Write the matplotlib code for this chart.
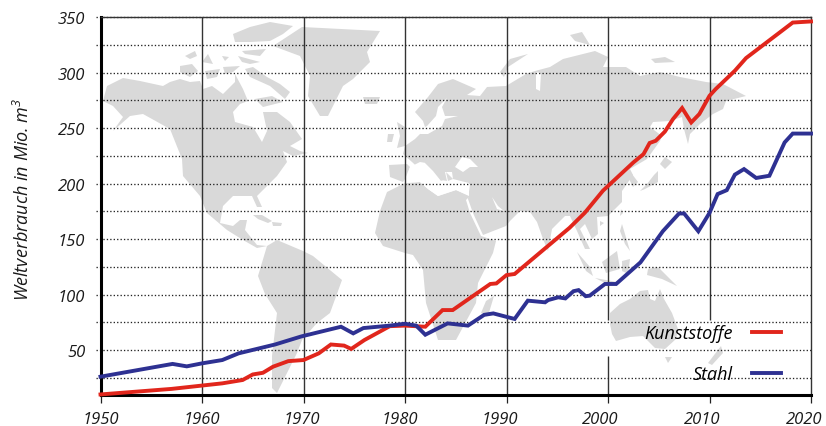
import matplotlib
matplotlib.use("Agg")
import matplotlib.pyplot as plt
import matplotlib.transforms as mtransforms
from matplotlib.patches import Polygon

plt.rcParams['font.family'] = ['Open Sans', 'DejaVu Sans']
plt.rcParams['font.style'] = 'italic'
plt.rcParams['mathtext.fontset'] = 'custom'
plt.rcParams['mathtext.it'] = 'Open Sans:italic'
plt.rcParams['mathtext.rm'] = 'Open Sans:italic'

kunst_years = [1950, 1957, 1960, 1962, 1964, 1965, 1966, 1967, 1968.5, 1970, 1971.5, 1972.7, 1974, 1974.7,
               1976, 1978.5, 1980, 1982, 1983.7, 1984.7, 1988.4, 1989, 1990, 1990.8, 1996.2, 1997.7, 1999.5,
               2002.5, 2003.5, 2004.1, 2004.7, 2005.6, 2006.4, 2007.3, 2008.2, 2009, 2010, 2010.6, 2012.5,
               2013.6, 2018.2, 2020]
kunst_vals = [10, 15, 18, 20, 23, 28, 29.5, 35, 40, 41, 47, 55, 54, 51,
              59, 71.5, 72, 71, 86, 86, 109.5, 110, 117.5, 118.5, 160, 173.5, 193.5,
              219, 226.5, 236.5, 238.5, 246.7, 258, 268, 255, 262.6, 279, 285, 301.6,
              313, 345, 346]

stahl_years = [1950, 1957.1, 1958.5, 1960, 1962, 1963.6, 1967.2, 1969.8, 1973.7, 1974.9, 1975.9, 1978.5, 1980,
               1981.1, 1982, 1984.2, 1986.2, 1987.8, 1988.7, 1990.8, 1992.1, 1993.8, 1994.1, 1995.1, 1995.8,
               1996.6, 1997.1, 1997.8, 1998.2, 1999.7, 2000.8, 2003.2, 2005.4, 2007, 2007.5, 2008.9, 2010,
               2010.8, 2011.7, 2012.5, 2013.4, 2014.6, 2015.9, 2017.4, 2018.2, 2020]
stahl_vals = [26, 37.5, 35.3, 38, 41, 47, 55, 62.3, 71, 65, 69.8, 72, 73.7,
              72, 63.8, 74, 72, 81.7, 83, 78, 94.5, 93, 95, 97.5, 96.5,
              103, 104, 98.5, 99, 109.5, 109.5, 129, 157, 173, 173, 157, 173.5,
              190.5, 194, 208, 213, 205, 207, 237, 245, 245]

y_ticks = [50, 100, 150, 200, 250, 300, 350]
grid_vals = [25, 50, 75, 100, 125, 150, 175, 200, 225, 250, 275, 300, 325, 350]
x_ticks = [1950, 1960, 1970, 1980, 1990, 2000, 2010, 2020]
# the year labels drift left of their ticks in the original (pixels)
x_label_shift = [0, 0, -2, -5, -7, -7.5, -7, -7]

# background map, traced in image pixels
land = [
    # north and central america
    [(103,102),(107,87),(123,79),(140,82),(163,87),(170,83),(180,80),(190,83),(200,82),(203,90),(212,87),(223,95),
     (235,83),(235,75),(243,90),(248,102),(240,105),(233,113),(235,123),(253,128),(262,143),(267,132),(263,113),
     (277,113),(290,123),(302,140),(290,147),(300,152),(308,154),(293,157),(283,152),(287,163),(277,177),(257,197),
     (262,208),(257,208),(252,197),(233,197),(223,207),(220,224),(233,227),(240,221),(247,221),(245,231),(257,246),
     (267,247),(257,249),(243,241),(227,231),(207,214),(200,197),(183,177),(182,160),(170,130),(143,115),(130,117),
     (113,132),(123,118),(113,107)],
    # south america
    [(267,247),(277,241),(303,252),(313,257),(342,281),(330,314),(317,324),(302,341),(297,354),(287,374),(277,394),
     (272,389),(272,357),(277,314),(265,295),(258,277)],
    # greenland and iceland
    [(273,47),(302,28),(380,32),(367,53),(370,63),(353,80),(343,87),(328,117),(320,117),(308,97),(310,77),(300,57)],
    [(363,98),(380,98),(377,105),(365,105)],
    # canadian islands
    [(233,35),(250,28),(270,23),(293,27),(283,35),(270,42),(250,43),(235,43)],
    [(245,70),(253,68),(267,78),(280,85),(290,93),(285,100),(270,87),(250,78)],
    [(255,100),(272,97),(283,103),(263,108)],
    [(185,57),(195,52),(197,57),(190,60)],
    [(180,67),(192,65),(198,72),(190,78),(180,73)],
    [(202,63),(208,55),(213,65)],
    [(222,57),(229,58),(225,62)],
    [(238,57),(260,63),(250,65),(242,63)],
    [(242,52),(266,50),(260,57),(245,55)],
    [(215,45),(225,47),(220,48)],
    [(205,72),(220,70),(217,78),(207,80)],
    [(223,68),(240,67),(233,73),(225,75)],
    [(253,216),(262,216),(272,222),(268,224),(258,220)],
    [(272,223),(282,224),(281,227),(273,227)],
    # eurasia
    [(415,113),(428,98),(438,85),(453,80),(476,90),(467,96),(480,97),(487,88),(506,87),(526,75),(535,72),(550,68),
     (563,60),(595,52),(608,58),(603,68),(626,68),(640,77),(660,73),(680,78),(706,83),(723,85),(746,97),(726,102),
     (723,110),(713,115),(700,125),(690,135),(688,145),(684,130),(682,118),(670,122),(653,123),(650,128),(662,137),
     (660,142),(647,160),(630,170),(633,176),(622,192),(622,203),(608,217),(597,218),(598,235),(592,240),(585,225),
     (580,230),(590,250),(585,250),(577,232),(570,217),(565,217),(552,230),(548,252),(543,240),(537,223),(530,213),
     (520,212),(510,222),(506,227),(483,236),(473,214),(468,200),(470,185),(445,185),(430,180),(412,163),(403,155),
     (405,147),(415,140),(420,135),(425,128),(423,122)],
    # iberia
    [(389,166),(407,165),(410,168),(405,180),(403,183),(390,178)],
    # africa
    [(375,234),(383,247),(405,254),(413,256),(423,271),(426,304),(438,341),(456,341),(476,304),(478,284),(493,254),
     (496,242),(481,237),(470,214),(466,201),(470,197),(456,191),(438,197),(428,190),(420,183),(405,184),(387,193),
     (380,212)],
    [(494,297),(488,317),(481,314),(486,302)],
    # british isles
    [(397,123),(405,128),(405,147),(397,149),(400,137)],
    [(388,135),(394,135),(392,143),(387,143)],
    # arctic russia
    [(500,73),(510,60),(528,55),(508,68),(504,78)],
    [(570,36),(582,33),(590,46),(575,42)],
    [(651,60),(665,58),(675,63),(655,64)],
    # east and south east asia
    [(632,175),(638,183),(633,188),(628,178)],
    [(665,158),(672,163),(665,170),(660,165)],
    [(658,172),(658,183),(645,190),(640,192),(647,185),(654,176)],
    [(621,210),(623,214),(620,217)],
    [(600,222),(604,224),(600,227)],
    [(622,225),(625,235),(630,252),(625,245),(620,232)],
    [(577,253),(590,268),(593,277),(586,272)],
    [(595,279),(617,283),(605,284)],
    [(602,263),(617,252),(620,270),(606,274)],
    [(622,262),(630,260),(628,275),(622,272)],
    [(648,270),(658,268),(677,287),(662,280),(647,276)],
    # australia and new zealand
    [(610,314),(620,305),(630,300),(640,292),(648,291),(650,300),(655,302),(660,290),(664,300),(672,314),(678,330),
     (676,340),(665,350),(655,349),(643,337),(630,338),(616,342),(612,335),(610,325)],
    [(665,358),(672,358),(668,364)],
    [(721,347),(723,354),(712,366),(708,364)],
]
sea = [
    # mediterranean north shore is cut out of the eurasia shape
    [(410,168),(420,163),(432,165),(441,181),(447,182),(445,173),(452,173),(453,180),(469,184),(469,197),(456,191),
     (438,197),(428,190),(420,183),(405,184)],
    # black sea, baltic, persian gulf, gulf of ob
    [(455,168),(462,158),(470,160),(478,168),(470,168),(463,173)],
    [(447,99),(438,108),(436,117),(427,127),(421,130),(420,135),(428,135),(442,127),(445,120),(458,117),(445,117),(442,108)],
    [(492,198),(498,207),(504,212),(497,210)],
    [(536,73),(541,74),(540,92),(536,90)],
]
# italy and greece sit on top of the mediterranean
peninsulas = [
    [(427,160),(435,167),(445,180),(441,182),(433,172),(425,164)],
    [(446,173),(453,180),(448,182)],
]

fig = plt.figure(figsize=(8.26, 4.27), dpi=100)
ax = fig.add_axes([100.5/826, 1-396/427, (811-100.5)/826, (396-18)/427])
px = mtransforms.Affine2D().scale(1/826, -1/427).translate(0, 1) + fig.transFigure

for shape in land:
    ax.add_patch(Polygon(shape, closed=True, transform=px, fc='#d9d9d9', ec='none', zorder=0.5))
for shape in sea:
    ax.add_patch(Polygon(shape, closed=True, transform=px, fc='white', ec='none', zorder=0.6))
for shape in peninsulas:
    ax.add_patch(Polygon(shape, closed=True, transform=px, fc='#d9d9d9', ec='none', zorder=0.7))

ax.set_xlim(1950, 2020)
ax.set_ylim(9.5, 350)

# decade lines, cut behind the legend
ax.vlines([1960, 1970, 1980, 1990], 9.5, 350, color='#333333', lw=1, zorder=1)
ax.vlines([2000, 2010], 77, 350, color='#333333', lw=1, zorder=1)
ax.vlines(2000, 9.5, 45, color='#333333', lw=1, zorder=1)

ax.hlines(grid_vals, 1949.55, 2020, colors='#222222', linestyles=(0, (1, 1.6)), lw=0.95, clip_on=False, zorder=1.5)

ax.plot(kunst_years, kunst_vals, color='#e1261c', lw=2.8, label='Kunststoffe', zorder=3, clip_on=False, solid_joinstyle='miter')
ax.plot(stahl_years, stahl_vals, color='#2e3192', lw=2.8, label='Stahl', zorder=3, clip_on=False, solid_joinstyle='miter')

ax.set_xticks(x_ticks)
ax.set_yticks(y_ticks)
ax.tick_params(axis='x', length=5.5, width=0.9, pad=6, labelsize=12, color='#222222', labelcolor='#1a1a1a')
ax.tick_params(axis='y', length=0, pad=11, labelsize=12, labelcolor='#1a1a1a')

for lab, shift in zip(ax.get_xticklabels(), x_label_shift):
    lab.set_transform(lab.get_transform() + mtransforms.ScaledTranslation(shift/100, 0, fig.dpi_scale_trans))

ax.spines['left'].set_linewidth(2.2)
ax.spines['bottom'].set_linewidth(2.2)
ax.spines['top'].set_linewidth(1)
ax.spines['right'].set_linewidth(1)
ax.spines['top'].set_color('#333333')
ax.spines['right'].set_color('#333333')

fig.text(23/826, 1-199/427, 'Weltverbrauch in Mio. m$^{3}$', rotation=90, fontsize=13, va='center', ha='center', color='#1a1a1a')

leg = ax.legend(frameon=False, markerfirst=False, loc='lower right', bbox_to_anchor=(781/826, 1-384/427),
                bbox_transform=fig.transFigure, fontsize=13, handlelength=1.6, handletextpad=1.05,
                labelspacing=1.25, borderaxespad=0, borderpad=0)

fig.savefig('out.png', dpi=100)
